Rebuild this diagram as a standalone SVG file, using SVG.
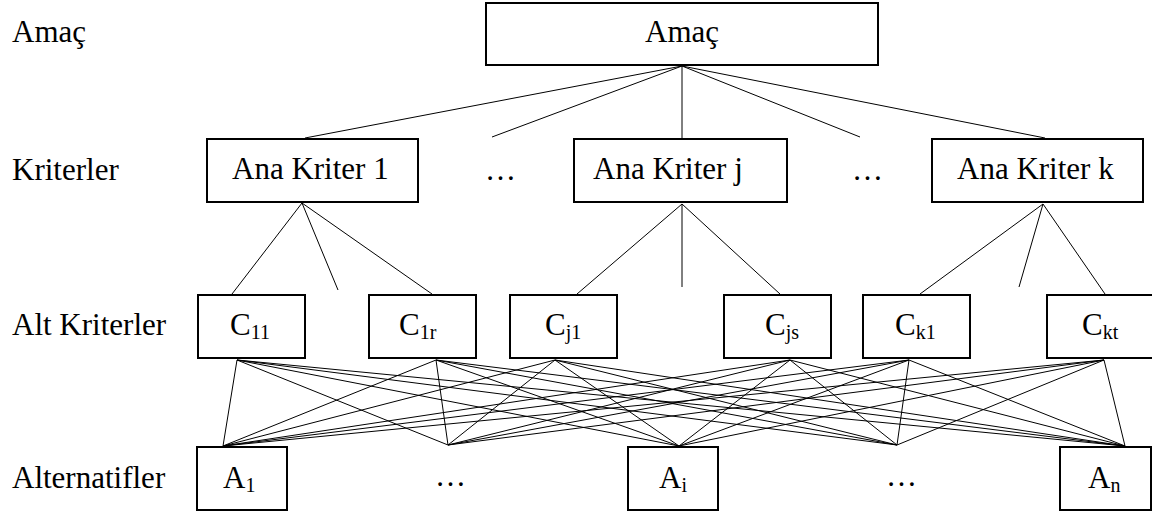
<svg xmlns="http://www.w3.org/2000/svg" width="1152" height="512" viewBox="0 0 1152 512">
<style>
.box{fill:#fff;stroke:#000;stroke-width:2}
.t{font-family:"Liberation Serif","Times New Roman",serif;font-size:31px;fill:#000}
.s{font-size:20px}
.c line{stroke:#000;stroke-width:1}
</style>
<rect width="1152" height="512" fill="#fff"/>
<g id="level-labels">
<text class="t" x="12" y="42">Amaç</text>
<text class="t" x="12" y="180">Kriterler</text>
<text class="t" x="12" y="335">Alt Kriterler</text>
<text class="t" x="12" y="488">Alternatifler</text>
</g>
<g id="connectors" class="c">
<line x1="682" y1="66" x2="305" y2="138"/>
<line x1="682" y1="66" x2="492" y2="137"/>
<line x1="682" y1="66" x2="682" y2="139"/>
<line x1="682" y1="66" x2="860" y2="137"/>
<line x1="682" y1="66" x2="1045" y2="138"/>
<line x1="302" y1="203" x2="232" y2="294"/>
<line x1="302" y1="203" x2="338" y2="290"/>
<line x1="302" y1="203" x2="432" y2="294"/>
<line x1="682" y1="204" x2="577" y2="294"/>
<line x1="682" y1="204" x2="682" y2="287"/>
<line x1="682" y1="204" x2="780" y2="294"/>
<line x1="1043" y1="204" x2="920" y2="294"/>
<line x1="1043" y1="204" x2="1019" y2="287"/>
<line x1="1043" y1="204" x2="1105" y2="294"/>
<line x1="237" y1="360" x2="223" y2="446"/>
<line x1="237" y1="360" x2="448" y2="445"/>
<line x1="237" y1="360" x2="679" y2="446"/>
<line x1="237" y1="360" x2="897" y2="445"/>
<line x1="237" y1="360" x2="1125" y2="446"/>
<line x1="436" y1="360" x2="223" y2="446"/>
<line x1="436" y1="360" x2="448" y2="445"/>
<line x1="436" y1="360" x2="679" y2="446"/>
<line x1="436" y1="360" x2="897" y2="445"/>
<line x1="436" y1="360" x2="1125" y2="446"/>
<line x1="555" y1="360" x2="223" y2="446"/>
<line x1="555" y1="360" x2="448" y2="445"/>
<line x1="555" y1="360" x2="679" y2="446"/>
<line x1="555" y1="360" x2="897" y2="445"/>
<line x1="555" y1="360" x2="1125" y2="446"/>
<line x1="790" y1="360" x2="223" y2="446"/>
<line x1="790" y1="360" x2="448" y2="445"/>
<line x1="790" y1="360" x2="679" y2="446"/>
<line x1="790" y1="360" x2="897" y2="445"/>
<line x1="790" y1="360" x2="1125" y2="446"/>
<line x1="909" y1="360" x2="223" y2="446"/>
<line x1="909" y1="360" x2="448" y2="445"/>
<line x1="909" y1="360" x2="679" y2="446"/>
<line x1="909" y1="360" x2="897" y2="445"/>
<line x1="909" y1="360" x2="1125" y2="446"/>
<line x1="1104" y1="360" x2="223" y2="446"/>
<line x1="1104" y1="360" x2="448" y2="445"/>
<line x1="1104" y1="360" x2="679" y2="446"/>
<line x1="1104" y1="360" x2="897" y2="445"/>
<line x1="1104" y1="360" x2="1125" y2="446"/>
</g>
<g id="goal"><rect class="box" x="486" y="3" width="392" height="62"/><text class="t" x="645" y="42">Amaç</text></g>
<g id="criterion-1"><rect class="box" x="207" y="139" width="211" height="63"/><text class="t" x="232" y="179">Ana Kriter 1</text></g>
<g id="dots-crit-1"><text class="t" x="485" y="180">…</text></g>
<g id="criterion-j"><rect class="box" x="574" y="139" width="213" height="63"/><text class="t" x="593" y="179">Ana Kriter j</text></g>
<g id="dots-crit-2"><text class="t" x="852" y="180">…</text></g>
<g id="criterion-k"><rect class="box" x="932" y="139" width="211" height="63"/><text class="t" x="957" y="179">Ana Kriter k</text></g>
<g id="sub-c11"><rect class="box" x="198" y="295" width="107" height="63"/><text class="t" x="230" y="335">C<tspan class="s" dy="4">11</tspan></text></g>
<g id="sub-c1r"><rect class="box" x="369" y="295" width="107" height="63"/><text class="t" x="399" y="335">C<tspan class="s" dy="4">1r</tspan></text></g>
<g id="sub-cj1"><rect class="box" x="510" y="295" width="107" height="63"/><text class="t" x="545" y="335">C<tspan class="s" dy="4">j1</tspan></text></g>
<g id="sub-cjs"><rect class="box" x="724" y="295" width="107" height="63"/><text class="t" x="765" y="335">C<tspan class="s" dy="4">js</tspan></text></g>
<g id="sub-ck1"><rect class="box" x="863" y="295" width="107" height="63"/><text class="t" x="895" y="335">C<tspan class="s" dy="4">k1</tspan></text></g>
<g id="sub-ckt"><rect class="box" x="1047" y="295" width="107" height="63"/><text class="t" x="1082" y="335">C<tspan class="s" dy="4">kt</tspan></text></g>
<g id="alt-a1"><rect class="box" x="197" y="447" width="90" height="63"/><text class="t" x="223" y="488">A<tspan class="s" dy="4">1</tspan></text></g>
<g id="dots-alt-1"><text class="t" x="435" y="486">…</text></g>
<g id="alt-ai"><rect class="box" x="628" y="447" width="90" height="63"/><text class="t" x="659" y="488">A<tspan class="s" dy="4">i</tspan></text></g>
<g id="dots-alt-2"><text class="t" x="886" y="486">…</text></g>
<g id="alt-an"><rect class="box" x="1060" y="447" width="91" height="63"/><text class="t" x="1088" y="488">A<tspan class="s" dy="4">n</tspan></text></g>
</svg>
